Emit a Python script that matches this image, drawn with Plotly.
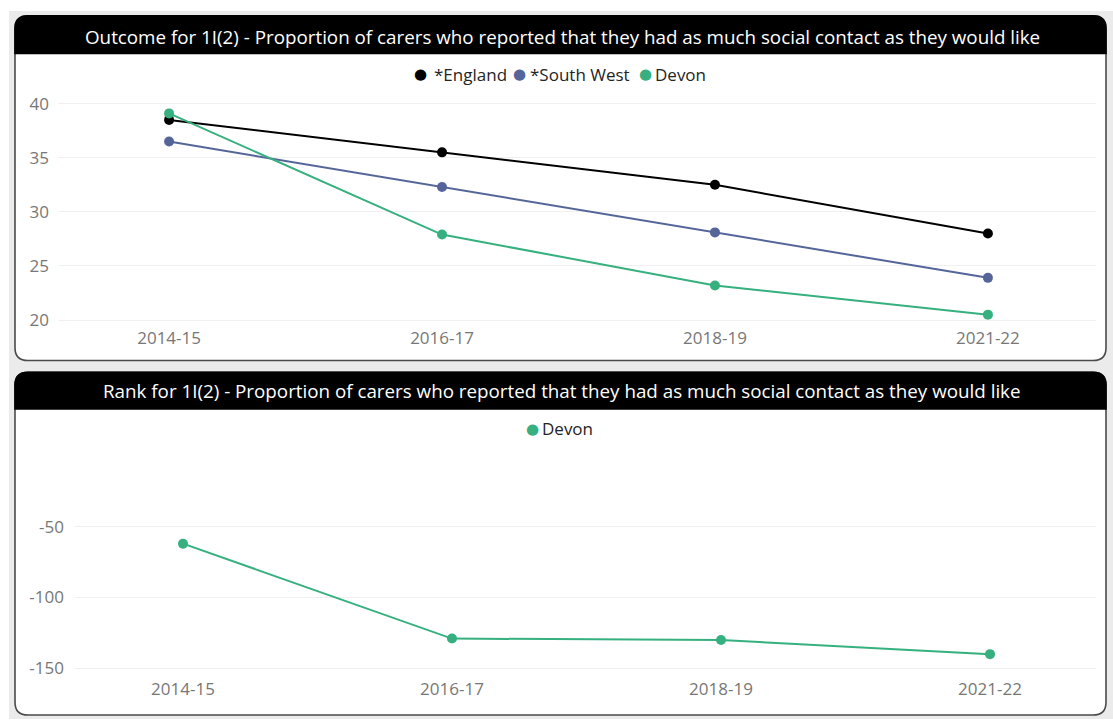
import plotly.graph_objects as go

W, H = 1113, 727

periods = ["2014-15", "2016-17", "2018-19", "2021-22"]
england = [38.5, 35.5, 32.5, 28.0]
south_west = [36.5, 32.3, 28.1, 23.9]
devon = [39.1, 27.9, 23.2, 20.5]
devon_rank = [-62, -129, -130, -140]

outcome_ticks = [20, 25, 30, 35, 40]
rank_ticks = [-150, -100, -50]
rank_tick_labels = ["-150", "-100", "-50"]

series_names = ["*England", "*South West", "Devon"]
series_colors = ["#000000", "#55659A", "#35B07E"]

title1 = "Outcome for 1I(2) - Proportion of carers who reported that they had as much social contact as they would like"
title2 = "Rank for 1I(2) - Proportion of carers who reported that they had as much social contact as they would like"

FONT = "Segoe UI, Open Sans, Noto Sans, sans-serif"


def fx(x):
    return x / W


def fy(y):
    return 1 - y / H


def rrect(x0, y0, x1, y1, r, bottom_round=True):
    p = [f"M {fx(x0 + r)},{fy(y0)}", f"L {fx(x1 - r)},{fy(y0)}",
         f"Q {fx(x1)},{fy(y0)} {fx(x1)},{fy(y0 + r)}"]
    if bottom_round:
        p += [f"L {fx(x1)},{fy(y1 - r)}", f"Q {fx(x1)},{fy(y1)} {fx(x1 - r)},{fy(y1)}",
              f"L {fx(x0 + r)},{fy(y1)}", f"Q {fx(x0)},{fy(y1)} {fx(x0)},{fy(y1 - r)}"]
    else:
        p += [f"L {fx(x1)},{fy(y1)}", f"L {fx(x0)},{fy(y1)}"]
    p += [f"L {fx(x0)},{fy(y0 + r)}", f"Q {fx(x0)},{fy(y0)} {fx(x0 + r)},{fy(y0)}", "Z"]
    return " ".join(p)


fig = go.Figure()

for name, vals, col in zip(series_names, [england, south_west, devon], series_colors):
    fig.add_trace(go.Scatter(
        x=periods, y=vals, mode="lines+markers", name=name,
        line=dict(color=col, width=2), marker=dict(color=col, size=10),
        xaxis="x", yaxis="y", showlegend=False, hoverinfo="skip"))

fig.add_trace(go.Scatter(
    x=periods, y=devon_rank, mode="lines+markers", name="Devon",
    line=dict(color=series_colors[2], width=2), marker=dict(color=series_colors[2], size=10),
    xaxis="x2", yaxis="y2", showlegend=False, hoverinfo="skip"))

shapes = [dict(type="rect", xref="paper", yref="paper", x0=fx(9), x1=fx(W), y0=fy(H), y1=fy(10),
               fillcolor="#EBEBEB", line=dict(width=0), layer="below")]
for (y0, y1, tb) in [(15, 364, 53), (376, 723, 413)]:
    shapes.append(dict(type="path", xref="paper", yref="paper", path=rrect(15, y0, 1106, y1, 13),
                       fillcolor="#FFFFFF", line=dict(color="#4A4A4A", width=1.6), layer="below"))
    shapes.append(dict(type="path", xref="paper", yref="paper",
                       path=rrect(15, y0, 1106, tb, 13, bottom_round=False),
                       fillcolor="#000000", line=dict(color="#000000", width=1.6), layer="below"))

annotations = [
    dict(text=title1, xref="paper", yref="paper", x=fx(562), y=fy(36), showarrow=False,
         xanchor="center", yanchor="middle", font=dict(family=FONT, size=18.8, color="#FFFFFF")),
    dict(text=title2, xref="paper", yref="paper", x=fx(562), y=fy(395), showarrow=False,
         xanchor="center", yanchor="middle", font=dict(family=FONT, size=18.8, color="#FFFFFF")),
]

# legends (dot + label)
legend_top = [(420, 432), (519, 528), (645, 653)]
for (dx, tx), name, col in zip(legend_top, series_names, series_colors):
    annotations.append(dict(text="●", xref="paper", yref="paper", x=fx(dx), y=fy(74), showarrow=False,
                            xanchor="center", yanchor="middle",
                            font=dict(family="DejaVu Sans", size=15, color=col)))
    annotations.append(dict(text=name, xref="paper", yref="paper", x=fx(tx), y=fy(74), showarrow=False,
                            xanchor="left", yanchor="middle",
                            font=dict(family=FONT, size=17, color="#252423")))
annotations.append(dict(text="●", xref="paper", yref="paper", x=fx(532), y=fy(433), showarrow=False,
                        xanchor="center", yanchor="middle",
                        font=dict(family="DejaVu Sans", size=15, color=series_colors[2])))
annotations.append(dict(text="Devon", xref="paper", yref="paper", x=fx(540), y=fy(433), showarrow=False,
                        xanchor="left", yanchor="middle",
                        font=dict(family=FONT, size=17, color="#252423")))

tickfont = dict(family=FONT, size=17, color="#777777")

fig.update_layout(
    width=W, height=H,
    margin=dict(l=0, r=0, t=0, b=0),
    paper_bgcolor="#FFFFFF",
    plot_bgcolor="rgba(0,0,0,0)",
    font=dict(family=FONT),
    showlegend=False,
    shapes=shapes,
    annotations=annotations,
    xaxis=dict(domain=[fx(58), fx(1096)], anchor="y", type="category", range=[-0.407, 3.396],
               showgrid=False, zeroline=False, showline=False, ticks="", tickfont=tickfont,
               ticklabelstandoff=3),
    yaxis=dict(domain=[fy(326), fy(93)], anchor="x", range=[19.73, 41.0],
               tickvals=outcome_ticks, showgrid=True, gridcolor="#F0F0F0", gridwidth=1,
               zeroline=False, showline=False, ticks="", tickfont=tickfont, ticklabelstandoff=8),
    xaxis2=dict(domain=[fx(75), fx(1096)], anchor="y2", type="category", range=[-0.4015, 3.394],
                showgrid=False, zeroline=False, showline=False, ticks="", tickfont=tickfont,
                ticklabelstandoff=1),
    yaxis2=dict(domain=[fy(683), fy(470)], anchor="x2", range=[-155.1, -6.6],
                tickvals=rank_ticks, ticktext=rank_tick_labels, showgrid=True, gridcolor="#F0F0F0",
                gridwidth=1, zeroline=False, showline=False, ticks="", tickfont=tickfont,
                ticklabelstandoff=10),
)

fig.write_html("out.html")
